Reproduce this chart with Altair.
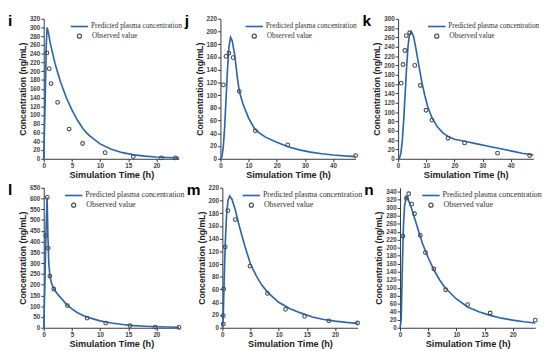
import altair as alt
import pandas as pd

BLUE = "#2a66ad"
PT = "#4a4a4a"

# ---- panel i ----
i_tc = [0, 0.25, 0.45, 0.6, 0.8, 1.2, 2, 2.5, 3, 4, 5, 6, 7, 8, 10, 12, 14, 16, 18, 20, 22, 24]
i_cc = [0, 130, 260, 300, 290, 262, 218, 196, 175, 140, 112, 88, 68, 54, 34, 22, 14, 9, 6, 4, 3, 2]
i_to = [0.57, 0.97, 1.3, 2.46, 4.5, 6.9, 10.9, 15.9, 20.9, 23.4]
i_co = [242, 206, 172, 129, 68, 35, 14, 5, 2, 2]

# ---- panel j ----
j_tc = [0, 0.5, 1, 1.5, 2, 2.5, 3, 3.6, 4.2, 5, 6, 6.7, 8, 10, 12, 14, 16, 20, 24, 28, 32, 36, 40, 44, 48]
j_cc = [0, 3, 18, 50, 95, 140, 175, 191, 185, 165, 128, 106, 86, 64, 48, 40, 34, 26, 19, 14, 10.5, 8, 6, 4.5, 3.5]
j_to = [1.04, 1.97, 3.0, 4.5, 6.7, 12.4, 23.9, 48]
j_co = [116, 161, 166, 159, 106, 44, 22, 5]

# ---- panel k ----
k_tc = [0, 0.5, 1, 1.5, 2, 2.5, 3, 3.5, 4, 4.7, 5.5, 6.5, 7.5, 8.5, 9.5, 10.5, 12, 14, 16, 18, 20, 24, 28, 32, 36, 40, 44, 48]
k_cc = [0, 2, 12, 40, 85, 140, 195, 240, 265, 272, 262, 230, 195, 162, 135, 112, 88, 68, 55, 47, 42, 37, 32, 27, 22, 17, 12, 8]
k_to = [1.09, 1.74, 2.4, 2.9, 4.1, 5.9, 7.9, 9.9, 12.0, 17.7, 23.6, 35.3, 46.7]
k_co = [162, 202, 232, 264, 270, 200, 157, 104, 83, 44, 34, 12, 7]

# ---- panel l ----
l_tc = [0, 0.2, 0.4, 0.6, 0.75, 0.9, 1.1, 1.4, 1.8, 2.5, 3, 4, 5, 6, 7, 8, 10, 12, 14, 16, 18, 20, 22, 24]
l_cc = [0, 200, 450, 605, 420, 300, 240, 205, 180, 155, 140, 110, 88, 70, 57, 47, 32, 22, 15, 10, 7, 5, 3.5, 2.5]
l_to = [0.34, 0.63, 0.8, 1.09, 1.78, 4.2, 7.7, 11.0, 15.3, 19.8, 24]
l_co = [428, 605, 370, 240, 180, 103, 45, 22, 10, 3, 1.5]

# ---- panel m ----
m_tc = [0, 0.15, 0.3, 0.5, 0.75, 1.0, 1.3, 1.7, 2.3, 3, 4, 5, 6, 7, 8, 10, 12, 14, 16, 18, 20, 22, 24]
m_cc = [0, 15, 70, 130, 178, 200, 207, 202, 185, 160, 128, 100, 82, 67, 56, 40, 30, 23, 17, 13, 10.5, 8.5, 7]
m_to = [0.17, 0.17, 0.23, 0.5, 0.97, 2.3, 4.9, 8.0, 11.2, 14.6, 18.9, 24]
m_co = [6, 19, 61, 127, 184, 170, 97, 54, 29, 18, 11, 7.5]

# ---- panel n ----
n_tc = [0, 0.2, 0.4, 0.6, 0.8, 1.1, 1.4, 2, 3, 4, 5, 6, 7, 8, 10, 12, 14, 16, 18, 20, 22, 24]
n_cc = [0, 20, 150, 255, 305, 328, 322, 300, 255, 210, 175, 145, 120, 100, 72, 52, 40, 31, 24, 19, 15, 12]
n_to = [0.51, 1.14, 1.54, 2.06, 2.57, 3.6, 4.5, 6.0, 8.1, 12.0, 16.0, 24]
n_co = [229, 324, 335, 309, 285, 231, 188, 147, 95, 58, 37, 19]

LEG_LINE = "Predicted plasma concentration"
LEG_PT = "Observed value"

W, H = 140, 145
one = pd.DataFrame({"a": [0]})


def panel(letter, tc, cc, to, co, xmax, xticks, ymax, yticks, lx, fs):
    curve = pd.DataFrame({"t": tc, "c": cc})
    obs = pd.DataFrame({"t": to, "c": co})
    xs = alt.Scale(domain=[0, xmax], nice=False)
    ys = alt.Scale(domain=[0, ymax], nice=False)
    x = alt.X("t:Q", scale=xs, axis=alt.Axis(values=xticks, tickCount=60, format="d",
                                              title="Simulation Time (h)",
                                              labelOverlap=False, labelFlush=False))
    y = alt.Y("c:Q", scale=ys, axis=alt.Axis(values=yticks, tickCount=60, format="d",
                                              title="Concentration (ng/mL)",
                                              labelOverlap=False, labelFlush=False))
    line = alt.Chart(curve).mark_line(color=BLUE, strokeWidth=1.7).encode(x=x, y=y, order="t:Q")
    pts = alt.Chart(obs).mark_point(shape="circle", size=15, filled=False, color=PT,
                                    strokeWidth=1.1, opacity=1).encode(x="t:Q", y="c:Q")
    leg_rule = alt.Chart(one).mark_rule(color=BLUE, strokeWidth=1.7).encode(
        x=alt.value(lx), x2=alt.value(lx + 18), y=alt.value(8))
    leg_pt = alt.Chart(one).mark_point(shape="circle", size=18, filled=False, color=PT,
                                       strokeWidth=1.2, opacity=1).encode(
        x=alt.value(lx + 9), y=alt.value(18))
    leg_t1 = alt.Chart(one).mark_text(text=LEG_LINE, font="Liberation Serif", fontSize=fs,
                                      align="left", baseline="middle", color="#333").encode(
        x=alt.value(lx + 21), y=alt.value(8))
    leg_t2 = alt.Chart(one).mark_text(text=LEG_PT, font="Liberation Serif", fontSize=fs,
                                      align="left", baseline="middle", color="#333").encode(
        x=alt.value(lx + 22), y=alt.value(18))
    let = alt.Chart(one).mark_text(text=letter, font="Liberation Sans", fontSize=16,
                                   fontWeight="bold", align="left", baseline="alphabetic",
                                   color="#000").encode(x=alt.value(-37), y=alt.value(8))
    return alt.layer(line, pts, leg_rule, leg_pt, leg_t1, leg_t2, let).properties(width=W, height=H)


pi = panel("i", i_tc, i_cc, i_to, i_co, 24, [0, 5, 10, 15, 20], 320, list(range(0, 321, 20)), 28, 7.5)
pj = panel("j", j_tc, j_cc, j_to, j_co, 48, [0, 10, 20, 30, 40], 220, list(range(0, 221, 20)), 26, 7.5)
pk = panel("k", k_tc, k_cc, k_to, k_co, 48, [0, 10, 20, 30, 40], 300, list(range(0, 301, 20)), 31, 7.5)
pl = panel("l", l_tc, l_cc, l_to, l_co, 24, [0, 5, 10, 15, 20], 650, list(range(0, 651, 50)), 22, 8.2)
pm = panel("m", m_tc, m_cc, m_to, m_co, 24, [0, 5, 10, 15, 20], 220, list(range(0, 221, 20)), 21, 8.2)
pn = panel("n", n_tc, n_cc, n_to, n_co, 24, [0, 5, 10, 15, 20], 350, list(range(0, 341, 20)), 23, 8.2)

chart = alt.vconcat(
    alt.hconcat(pi, pj, pk, spacing=2),
    alt.hconcat(pl, pm, pn, spacing=2),
    spacing=4,
).properties(padding={"left": 0, "top": 0, "right": 0, "bottom": 0}).configure_view(
    stroke=None
).configure_axis(
    grid=False,
    domainColor="#333",
    tickColor="#333",
    tickSize=3,
    labelFont="Liberation Sans",
    labelFontSize=6.5,
    labelFontWeight="bold",
    labelColor="#444",
    labelPadding=1,
    titleFont="Liberation Sans",
    titleFontWeight="bold",
    titleFontSize=9.5,
    titleColor="#222",
    titlePadding=1,
).configure_axisY(titleFontSize=9, titlePadding=2)

chart.save("out.html", embed_options={"renderer": "svg", "actions": False})
